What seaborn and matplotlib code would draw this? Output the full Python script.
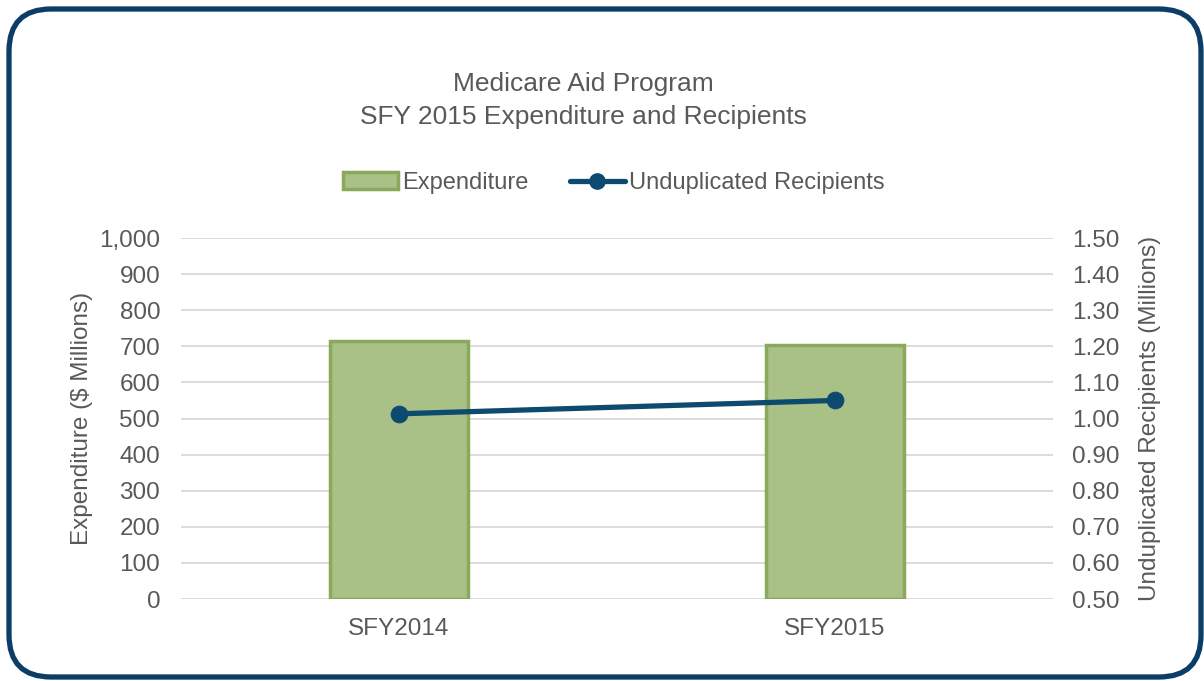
import pandas as pd
import seaborn as sns
import matplotlib.pyplot as plt
from matplotlib.patches import FancyBboxPatch, Patch
from matplotlib.lines import Line2D
from matplotlib.ticker import FuncFormatter

years = ['SFY2014', 'SFY2015']
expenditure = [714, 703]        # $ millions
recipients = [1.013, 1.050]     # millions

sns.set_theme(style="white")
plt.rcParams['font.family'] = ['Liberation Sans', 'DejaVu Sans']
grey = '#595959'
bar_fill = '#a9c086'
bar_edge = '#8aa95b'
line_col = '#0d4a70'

df = pd.DataFrame({'year': years, 'expenditure': expenditure, 'recipients': recipients})

fig = plt.figure(figsize=(12.04, 6.81), dpi=100)
ax = fig.add_axes([0.1503, 0.1204, 0.7243, 0.5301])

# rounded frame around the whole chart
frame = FancyBboxPatch((9 / 1204, 4 / 681), 1192 / 1204, 668 / 681,
                       boxstyle="round,pad=0,rounding_size=0.035",
                       transform=fig.transFigure, fill=False,
                       edgecolor='#0b3d66', linewidth=3.8, mutation_aspect=1204 / 681)
fig.patches.append(frame)

sns.barplot(data=df, x='year', y='expenditure', ax=ax, color=bar_fill, width=0.317,
            edgecolor=bar_edge, linewidth=2.5, saturation=1)
ax.set_ylim(0, 1000)
ax.set_xlim(-0.5, 1.5)
ax.set_yticks(range(0, 1001, 100))
ax.yaxis.set_major_formatter(FuncFormatter(lambda v, p: f'{v:,.0f}'))
ax.grid(axis='y', color='#d9d9d9', linewidth=1.3)
ax.set_axisbelow(True)
ax.set_xlabel('')
ax.set_ylabel('Expenditure ($ Millions)', fontsize=17.5, color=grey)
ax.yaxis.set_label_coords(-0.101, 0.5)
ax.tick_params(axis='both', colors=grey, labelsize=17.5, length=0)
ax.tick_params(axis='y', pad=15)
ax.tick_params(axis='x', pad=14)
for s in ax.spines.values():
    s.set_visible(False)

ax2 = ax.twinx()
sns.lineplot(data=df, x='year', y='recipients', ax=ax2, color=line_col, linewidth=3.8,
             marker='o', markersize=12, markeredgecolor=line_col)
ax2.set_ylim(0.5, 1.5)
ax2.set_yticks([0.5 + 0.1 * i for i in range(11)])
ax2.yaxis.set_major_formatter(FuncFormatter(lambda v, p: f'{v:.2f}'))
ax2.set_ylabel('Unduplicated Recipients (Millions)', fontsize=17.5, color=grey)
ax2.yaxis.set_label_coords(1.099, 0.5)
ax2.tick_params(axis='y', colors=grey, labelsize=17.5, length=0, pad=14)
ax2.set_xlim(-0.5, 1.5)
ax2.set_xlabel('')
for s in ax2.spines.values():
    s.set_visible(False)

fig.text(583 / 1204, 1 - 84 / 681, 'Medicare Aid Program', ha='center', va='center',
         fontsize=19, color=grey)
fig.text(583 / 1204, 1 - 117 / 681, 'SFY 2015 Expenditure and Recipients', ha='center',
         va='center', fontsize=19, color=grey)

handles = [Patch(facecolor=bar_fill, edgecolor=bar_edge, linewidth=2.5),
           Line2D([0], [0], color=line_col, linewidth=3.8, marker='o', markersize=11)]
fig.legend(handles, ['Expenditure', 'Unduplicated Recipients'], loc='center',
           bbox_to_anchor=(614 / 1204, 1 - 183 / 681), ncol=2, frameon=False,
           fontsize=17, labelcolor=grey, handlelength=2.33, handletextpad=0.17,
           columnspacing=1.74)

fig.savefig('out.png', dpi=100)
